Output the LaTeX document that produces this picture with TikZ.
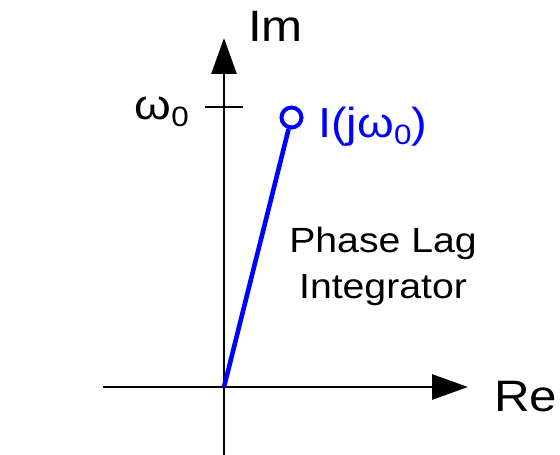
\documentclass[tikz,border=0pt]{standalone}
\usepackage{fontspec}
\setmainfont{Liberation Sans}[FakeStretch=1.12]
\usetikzlibrary{arrows.meta,positioning}
\definecolor{lagblue}{RGB}{0,0,255}
\newcommand{\wsub}{ω\raisebox{-7pt}{\fontsize{28}{28}\selectfont 0}}

\begin{document}
\begin{tikzpicture}[x=1pt,y=1pt,
   axis/.style={line width=2.8pt,-{Triangle[length=36pt,width=25pt]}},
   lbl/.style={font=\fontsize{42}{48}\selectfont,inner sep=0pt},
   big/.style={font=\fontsize{44}{50}\selectfont,inner sep=0pt}]
  \useasboundingbox (-224,-68) rectangle (336,387);
  % axes
  \coordinate (O) at (0,0);
  \coordinate (xl) at (-121,0);
  \coordinate (xr) at (244,0);
  \coordinate (yb) at (0,-68);
  \coordinate (yt) at (0,349);
  \draw[axis] (xl) -- (xr);
  \draw[axis] (yb) -- (yt);
  \node[big,anchor=base west] (re) at (270,-25) {Re};
  \node[big,anchor=base west] (im) at (24,345) {Im};
  % tick at omega_0
  \coordinate (tl) at (-19,280);
  \coordinate (tr) at (19,280);
  \draw[line width=2.8pt] (tl) -- (tr);
  \node[lbl,anchor=base east] (w0) at (-35,267) {\wsub};
  % integrator point
  \node[circle,draw=lagblue,line width=4pt,minimum size=20pt,inner sep=0pt] (pt) at (67.5,269.5) {};
  \draw[lagblue,line width=4.6pt] (O) -- (pt);
  \node[lbl,lagblue,anchor=base west] (ijw) at (94,249) {I(j\wsub)};
  \node[font=\fontsize{35}{46}\selectfont,inner sep=0pt,align=center] (lag) at (159,121) {Phase Lag\\Integrator};
\end{tikzpicture}
\end{document}
